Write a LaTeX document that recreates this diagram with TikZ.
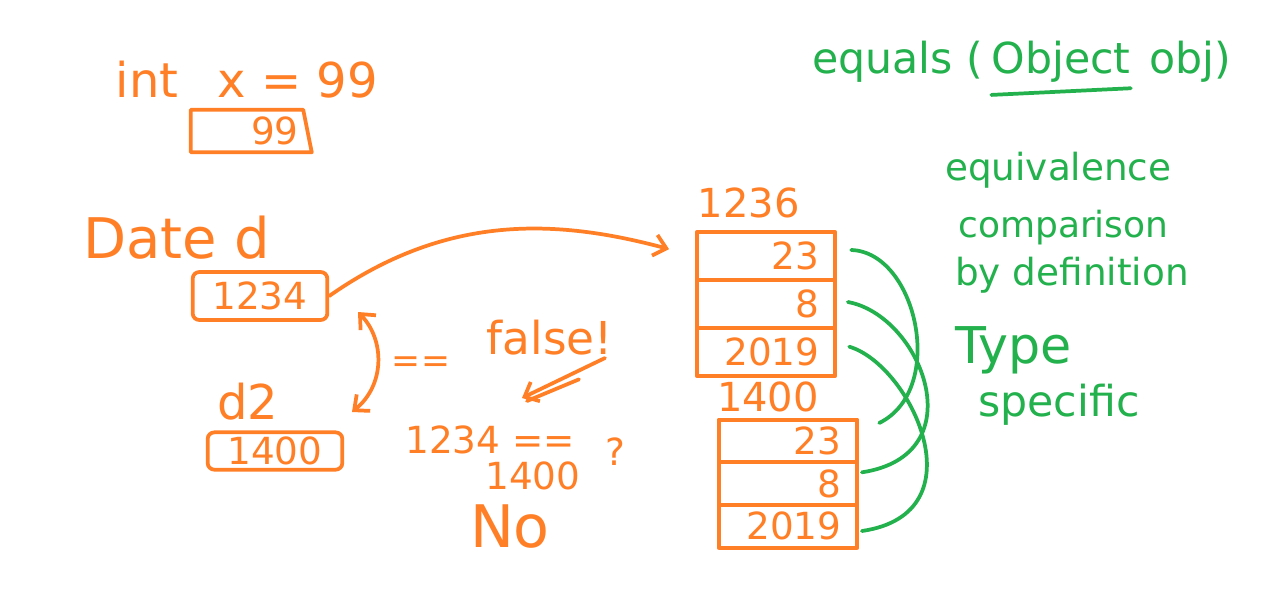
\documentclass[tikz,border=0pt]{standalone}
\usepackage{fontspec}
\setmainfont{DejaVu Sans}
\usepackage{tikz}
\usetikzlibrary{arrows.meta,positioning,shapes.geometric}
\definecolor{penorange}{RGB}{255,127,39}
\definecolor{pengreen}{RGB}{34,177,76}
\tikzset{
	ink/.style={draw=penorange, line width=2.8pt, line cap=round, line join=round},
	gink/.style={draw=pengreen, line width=2.8pt, line cap=round},
	otext/.style={text=penorange, inner sep=0pt, font=\fontsize{#1}{#1}\selectfont},
	gtext/.style={text=pengreen, inner sep=0pt, anchor=west, font=\fontsize{#1}{#1}\selectfont},
	valbox/.style={ink, rounded corners=5pt, minimum width=101pt, text=penorange, font=\fontsize{28}{28}\selectfont},
	cell/.style={ink, minimum height=#1, text width=80pt, inner xsep=12pt, inner ysep=0pt, align=right, text=penorange, font=\fontsize{28}{28}\selectfont},
	barb/.style={-{Straight Barb[length=9pt,width=16pt]}},
}

\begin{document}
\begin{tikzpicture}[x=0.75pt, y=0.75pt]
	\fill[white] (0,0) rectangle (1268,-590);
	\useasboundingbox (0,0) rectangle (1268,-590);

	% primitive value
	\node[otext=36] (intx) at (247,-80) {int\enspace\ x = 99};
	\node[ink, trapezium, trapezium left angle=90, trapezium right angle=77, trapezium stretches=true,
		minimum width=90pt, minimum height=32pt, text=penorange, font=\fontsize{28}{28}\selectfont] (xbox) at (247,-131) {\hspace{1.5em}99};

	% references
	\node[otext=42] (dated) at (177,-238) {Date d};
	\node[valbox, minimum height=36pt] (dbox) at (260,-296) {1234};
	\node[otext=36] (dtwo) at (248,-402) {d2};
	\node[valbox, minimum height=28pt] (dtwobox) at (275,-451) {1400};

	\coordinate (cmpTop) at (358,-312);
	\coordinate (cmpBot) at (352,-412);
	\draw[ink, {Straight Barb[length=9pt,width=16pt]}-{Straight Barb[length=9pt,width=16pt]}]
		(cmpTop) .. controls (385,-340) and (385,-385) .. (cmpBot);

	% comparison notes
	\node[otext=26] (eqeq) at (421,-365) {==};
	\node[otext=34] (false) at (550,-338) {false!};
	\node[otext=28] (idcmp) at (490,-440) {1234 ==};
	\node[otext=28] (idcmpb) at (533,-476) {1400};
	\node[otext=28] (quest) at (615,-452) {?};
	\node[otext=44] (no) at (510,-527) {No};
	\coordinate (falseTail) at (605,-358);
	\coordinate (falseHead) at (522,-398);
	\draw[ink, barb] (falseTail) -- (falseHead);
	\draw[ink] ([shift={(-19.5pt,-16pt)}]falseTail) -- ([shift={(3.75pt,-2.25pt)}]falseHead);

	% objects
	\node[cell=36pt] (u23) at (766,-256) {23};
	\node[cell=36pt, below=-2.8pt of u23] (u8) {8};
	\node[cell=36pt, below=-2.8pt of u8] (u2019) {2019};
	\node[otext=30, anchor=south west] (addrA) at ([xshift=2pt, yshift=9pt]u23.north west) {1236};

	\node[cell=32pt] (l23) at (788,-441) {23};
	\node[cell=32pt, below=-2.8pt of l23] (l8) {8};
	\node[cell=32pt, below=-2.8pt of l8] (l2019) {2019};
	\node[otext=30, anchor=south west] (addrB) at ([yshift=4pt]l23.north west) {1400};

	\draw[ink, barb, shorten >=20pt] (dbox.east) to[out=35, in=165] (u23.west);

	% equals
	\node[gtext=32] (equals) at (812,-62) {equals (};
	\node[gtext=32, right=6pt of equals] (object) {Object};
	\node[gtext=32, right=14pt of object] (obj) {obj)};
	\draw[gink] ([yshift=-9pt]object.south west) -- ([yshift=-4pt]object.south east);
	\node[gtext=28] (equiv) at (945,-170) {equivalence};
	\node[gtext=27] (compar) at (958,-228) {comparison};
	\node[gtext=28] (bydef) at (955,-275) {by definition};
	\node[gtext=38] (typ) at (955,-350) {Type};
	\node[gtext=32] (spec) at (978,-405) {specific};

	\draw[gink] ([shift={(10.5pt,4.5pt)}]u23.east) .. controls +(49pt,-1.5pt) and +(51pt,25pt) .. ([shift={(15pt,13.5pt)}]l23.east);
	\draw[gink] ([shift={(8pt,1.5pt)}]u8.east) .. controls +(55pt,-10pt) and +(86pt,13pt) .. ([shift={(2pt,8.5pt)}]l8.east);
	\draw[gink] ([shift={(9pt,4pt)}]u2019.east) .. controls +(46pt,-13.5pt) and +(90pt,13pt) .. ([shift={(2pt,-3.5pt)}]l2019.east);
\end{tikzpicture}
\end{document}
